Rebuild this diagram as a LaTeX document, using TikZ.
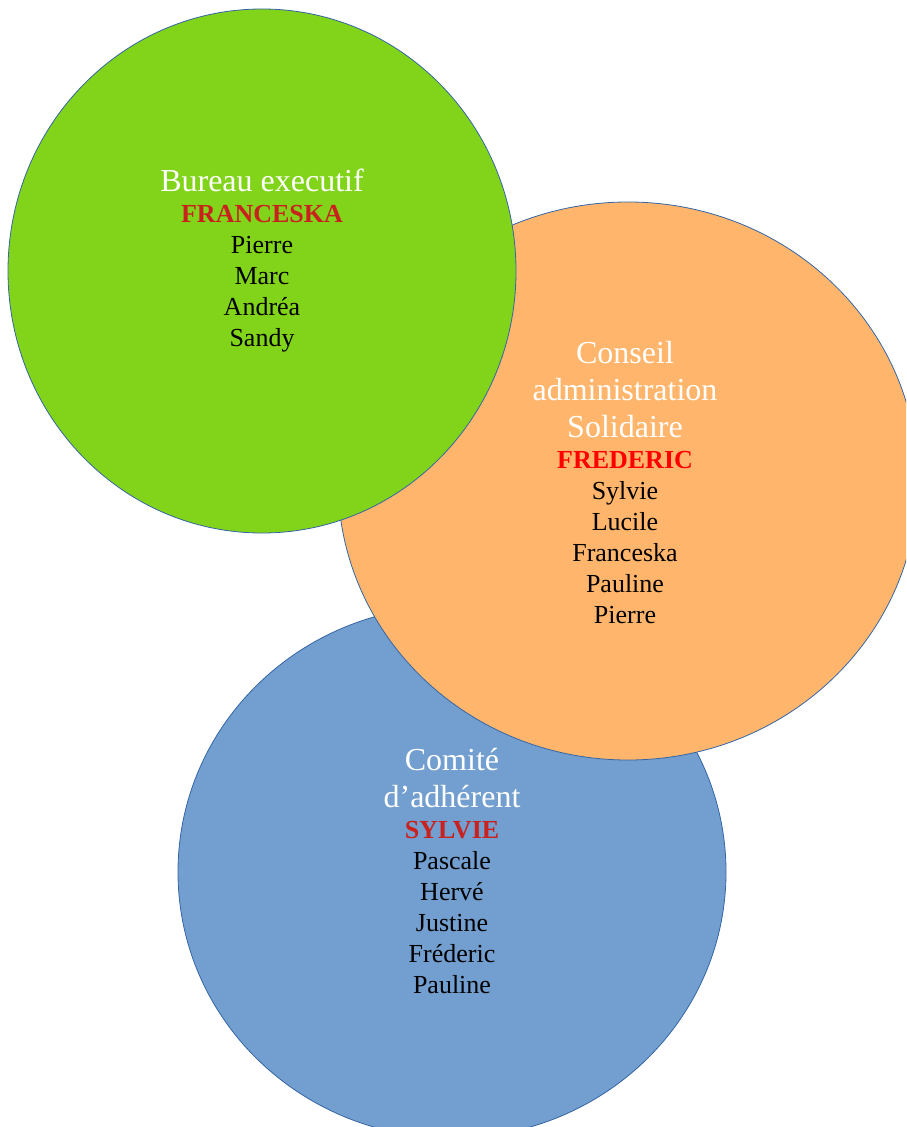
\documentclass[tikz,border=0pt]{standalone}
\usepackage{fontspec}
\setmainfont{Liberation Serif}
\usepackage{xcolor}
\usepackage{tikz}
\usetikzlibrary{shapes.geometric,positioning}
\definecolor{bureaugreen}{HTML}{81D41A}
\definecolor{conseilorange}{HTML}{FFB66C}
\definecolor{comiteblue}{HTML}{729FCF}
\definecolor{edgeblue}{HTML}{3465A4}
\definecolor{chiefred}{HTML}{C9211E}
\newcommand{\titlesize}{\fontsize{24}{27.75}\selectfont\color{white}}
\tikzset{
  zone/.style={ellipse, draw=edgeblue, line width=0.6pt, inner sep=0pt},
  bureauzone/.style={zone, fill=bureaugreen, minimum width=381pt, minimum height=393pt},
  conseilzone/.style={zone, fill=conseilorange, minimum width=435pt, minimum height=418.5pt},
  comitezone/.style={zone, fill=comiteblue, minimum width=411pt, minimum height=399pt},
  zonetext/.style={align=center, inner sep=0pt, text=black,
                   font=\fontsize{19.5}{23.25}\selectfont},
  chief/.style={text=chiefred},
}

\begin{document}
\begin{tikzpicture}[x=0.75pt, y=-0.75pt]
    \useasboundingbox (0,0) rectangle (906,1127);
    \clip (0,0) rectangle (906,1127);
    % circles, back to front
    \node[comitezone]  (c) at (452,872) {};
    \node[conseilzone] (b) at (628,481) {};
    \node[bureauzone]  (a) at (262,271) {};
    % members
    \node[zonetext] (at) at (262,261) {{\titlesize Bureau executif}\\
      {\bfseries\color{chiefred}FRANCESKA}\\ Pierre\\ Marc\\ Andréa\\ Sandy};
    \node[zonetext] (bt) at (625,483) {{\titlesize Conseil}\\[4.5pt]
      {\titlesize administration}\\[4.5pt] {\titlesize Solidaire}\\
      {\bfseries\color{red}FREDERIC}\\ Sylvie\\ Lucile\\ Franceska\\ Pauline\\ Pierre};
    \node[zonetext] (ct) at (452,871) {{\titlesize Comité}\\[4.5pt]
      {\titlesize d’adhérent}\\
      {\bfseries\color{chiefred}SYLVIE}\\ Pascale\\ Hervé\\ Justine\\ Fréderic\\ Pauline};
\end{tikzpicture}
\end{document}
